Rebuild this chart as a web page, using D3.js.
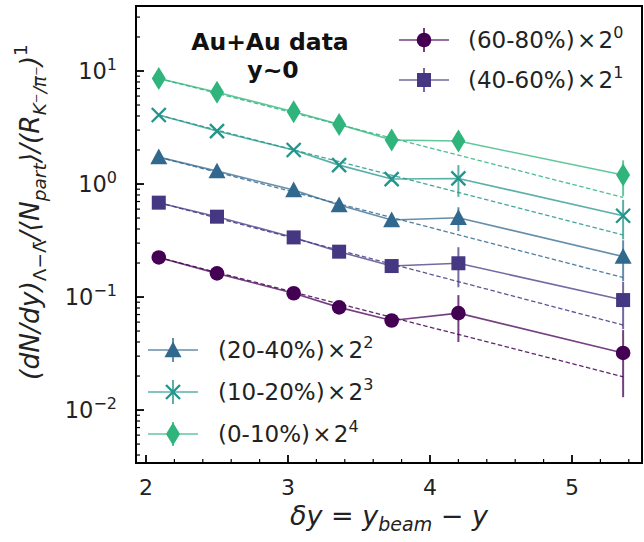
<!DOCTYPE html>
<html>
<head>
<meta charset="utf-8">
<script src="https://cdn.jsdelivr.net/npm/d3@7"></script>
<style>
  html, body { margin: 0; padding: 0; background: #fff; }
  svg { display: block; font-family: "DejaVu Sans", sans-serif; }
</style>
</head>
<body>
<svg id="chart" width="644" height="542"></svg>
<script>
// ---------------- data ----------------
const deltaY = [2.09, 2.50, 3.04, 3.36, 3.73, 4.20, 5.36];

const centralities = ["60-80%", "40-60%", "20-40%", "10-20%", "0-10%"];
const scalePowers  = [0, 1, 2, 3, 4];

const vals_60_80 = [0.224, 0.162, 0.108, 0.081, 0.062, 0.072, 0.032];
const errs_60_80 = [0.008, 0.006, 0.004, 0.003, 0.004, 0.032, 0.019];

const vals_40_60 = [0.684, 0.514, 0.337, 0.252, 0.188, 0.199, 0.094];
const errs_40_60 = [0.02, 0.015, 0.010, 0.008, 0.010, 0.077, 0.042];

const vals_20_40 = [1.73, 1.30, 0.885, 0.652, 0.480, 0.503, 0.228];
const errs_20_40 = [0.04, 0.03, 0.02, 0.02, 0.03, 0.12, 0.09];

const vals_10_20 = [4.08, 2.94, 2.00, 1.47, 1.107, 1.12, 0.524];
const errs_10_20 = [0.10, 0.07, 0.05, 0.04, 0.06, 0.35, 0.20];

const vals_0_10 = [8.6, 6.48, 4.36, 3.37, 2.45, 2.40, 1.20];
const errs_0_10 = [0.20, 0.15, 0.10, 0.08, 0.12, 0.30, 0.42];

// exponential fit (dashed) end-point values at first and last deltaY
const fitStart = [0.224, 0.684, 1.73, 4.08, 8.6];
const fitEnd   = [0.0197, 0.0565, 0.149, 0.354, 0.762];

const xTickValues = [2, 3, 4, 5];
const yTickExponents = [-2, -1, 0, 1];

const colors  = ["#440154", "#453781", "#31688e", "#23968b", "#2fb47c"];
const markers = ["circle", "square", "triangle", "x", "diamond"];

// ---------------- build ----------------
const allVals = [vals_60_80, vals_40_60, vals_20_40, vals_10_20, vals_0_10];
const allErrs = [errs_60_80, errs_40_60, errs_20_40, errs_10_20, errs_0_10];
const series = centralities.map((c, i) => ({
  name: c, power: scalePowers[i], color: colors[i], marker: markers[i],
  points: deltaY.map((x, j) => ({x, y: allVals[i][j], e: allErrs[i][j]})),
  fit: [{x: deltaY[0], y: fitStart[i]}, {x: deltaY[deltaY.length - 1], y: fitEnd[i]}]
}));

const svg = d3.select("#chart");
const L = 136, R = 642, T = 6, B = 463;

const x = d3.scaleLinear().domain([1.9296, 5.493]).range([L, R]);
const y = d3.scaleLog().domain([0.0034, 37.6]).range([B, T]);

const line = d3.line().x(d => x(d.x)).y(d => y(d.y));

function drawMarker(g, type, cx, cy, color) {
  if (type === "circle") {
    g.append("circle").attr("cx", cx).attr("cy", cy).attr("r", 7.3).attr("fill", color);
  } else if (type === "square") {
    g.append("rect").attr("x", cx - 7).attr("y", cy - 7).attr("width", 14).attr("height", 14).attr("fill", color);
  } else if (type === "triangle") {
    const s = 8.5;
    g.append("path").attr("d", `M${cx},${cy - s} L${cx - s},${cy + s * 0.85} L${cx + s},${cy + s * 0.85} Z`).attr("fill", color);
  } else if (type === "x") {
    const s = 7;
    g.append("path").attr("d", `M${cx - s},${cy - s} L${cx + s},${cy + s} M${cx - s},${cy + s} L${cx + s},${cy - s}`)
      .attr("stroke", color).attr("stroke-width", 2.4).attr("fill", "none");
  } else if (type === "diamond") {
    g.append("path").attr("d", `M${cx},${cy - 11.5} L${cx + 7},${cy} L${cx},${cy + 11.5} L${cx - 7},${cy} Z`).attr("fill", color);
  }
}

// clip for plot area
svg.append("defs").append("clipPath").attr("id", "clip")
  .append("rect").attr("x", L).attr("y", T).attr("width", R - L).attr("height", B - T);

const plot = svg.append("g").attr("clip-path", "url(#clip)");

// dashed fits
series.forEach(s => {
  plot.append("path").datum(s.fit).attr("d", line)
    .attr("fill", "none").attr("stroke", s.color).attr("stroke-width", 1.3)
    .attr("stroke-opacity", 0.85).attr("stroke-dasharray", "4.5,2.5");
});

// lines + error bars + markers
series.forEach(s => {
  plot.append("path").datum(s.points).attr("d", line)
    .attr("fill", "none").attr("stroke", s.color).attr("stroke-width", 1.6).attr("stroke-opacity", 0.75);
  s.points.forEach(p => {
    plot.append("line").attr("x1", x(p.x)).attr("x2", x(p.x))
      .attr("y1", y(p.y + p.e)).attr("y2", y(Math.max(p.y - p.e, 1e-4)))
      .attr("stroke", s.color).attr("stroke-width", 2).attr("stroke-opacity", 0.75);
  });
  const mg = plot.append("g");
  s.points.forEach(p => drawMarker(mg, s.marker, x(p.x), y(p.y), s.color));
});

// ---------------- axes ----------------
const ax = svg.append("g");
const xMinor = d3.range(2.0, 5.5, 0.2).filter(v => Math.abs(v - Math.round(v)) > 1e-6 && x(v) < R);
xMinor.forEach(v => ax.append("line").attr("x1", x(v)).attr("x2", x(v)).attr("y1", B).attr("y2", B - 4)
  .attr("stroke", "#000").attr("stroke-width", 1.2));
xTickValues.forEach(v => {
  ax.append("line").attr("x1", x(v)).attr("x2", x(v)).attr("y1", B).attr("y2", B - 8)
    .attr("stroke", "#000").attr("stroke-width", 1.8);
  ax.append("text").attr("x", x(v)).attr("y", 495).attr("text-anchor", "middle")
    .attr("font-size", 22).attr("fill", "#222").text(v);
});
const yMinor = [];
for (let k = -3; k <= 1; k++) for (let m = 2; m <= 9; m++) {
  const v = m * Math.pow(10, k);
  if (v > y.domain()[0] && v < y.domain()[1]) yMinor.push(v);
}
yMinor.forEach(v => ax.append("line").attr("x1", L).attr("x2", L + 4).attr("y1", y(v)).attr("y2", y(v))
  .attr("stroke", "#000").attr("stroke-width", 1.2));
yTickExponents.forEach(k => {
  const v = Math.pow(10, k);
  ax.append("line").attr("x1", L).attr("x2", L + 8).attr("y1", y(v)).attr("y2", y(v))
    .attr("stroke", "#000").attr("stroke-width", 1.8);
  const t = ax.append("text").attr("x", 117).attr("y", y(v) + 8).attr("text-anchor", "end")
    .attr("font-size", 22.5).attr("fill", "#222");
  t.append("tspan").text("10");
  t.append("tspan").attr("dy", -9).attr("font-size", 16).text(k < 0 ? "\u2212" + Math.abs(k) : String(k));
});
ax.append("rect").attr("x", L).attr("y", T).attr("width", R - L).attr("height", B - T)
  .attr("fill", "none").attr("stroke", "#000").attr("stroke-width", 2);

// x label
const xl = svg.append("text").attr("x", 389).attr("y", 525).attr("text-anchor", "middle")
  .attr("font-size", 27).attr("font-style", "italic").attr("fill", "#222");
xl.append("tspan").text("\u03B4y = y");
xl.append("tspan").attr("dy", 6).attr("font-size", 19).text("beam");
xl.append("tspan").attr("dy", -6).text(" \u2212 y");

// y label
const yl = svg.append("text").attr("transform", "translate(39,212) rotate(-90)")
  .attr("text-anchor", "middle").attr("font-size", 26.5).attr("font-style", "italic").attr("fill", "#222");
yl.append("tspan").text("(dN/dy)");
yl.append("tspan").attr("dy", 7).attr("font-size", 18.5).attr("font-style", "normal").text("\u039B\u2212\u039B\u0304");
yl.append("tspan").attr("dy", -7).text("/\u27E8N");
yl.append("tspan").attr("dy", 7).attr("font-size", 18.5).text("part");
yl.append("tspan").attr("dy", -7).text("\u27E9/(R");
yl.append("tspan").attr("dy", 7).attr("font-size", 18.5).text("K\u207B/\u03C0\u207B");
yl.append("tspan").attr("dy", -7).text(")");
yl.append("tspan").attr("dy", -12).attr("font-size", 18.5).attr("font-style", "normal").text("1");

// annotation
svg.append("text").attr("x", 270).attr("y", 50).attr("text-anchor", "middle")
  .attr("font-size", 23.5).attr("font-weight", "bold").attr("fill", "#111").text("Au+Au data");
svg.append("text").attr("x", 273).attr("y", 78).attr("text-anchor", "middle")
  .attr("font-size", 23.5).attr("font-weight", "bold").attr("fill", "#111").text("y~0");

// legends
function legendEntry(s, lx, ly, tx) {
  const g = svg.append("g");
  g.append("line").attr("x1", lx - 25).attr("x2", lx + 25).attr("y1", ly).attr("y2", ly)
    .attr("stroke", s.color).attr("stroke-width", 1.6).attr("stroke-opacity", 0.75);
  g.append("line").attr("x1", lx).attr("x2", lx).attr("y1", ly - 12).attr("y2", ly + 12)
    .attr("stroke", s.color).attr("stroke-width", 2).attr("stroke-opacity", 0.75);
  drawMarker(g, s.marker, lx, ly, s.color);
  const t = g.append("text").attr("x", tx).attr("y", ly + 8).attr("font-size", 23).attr("fill", "#222");
  t.append("tspan").text("(" + s.name + ")\u200A\u00D7\u200A2");
  t.append("tspan").attr("dy", -10).attr("font-size", 16).text(s.power);
}
legendEntry(series[0], 424, 40, 468);
legendEntry(series[1], 424, 80, 468);
legendEntry(series[2], 173, 350, 218);
legendEntry(series[3], 173, 392, 218);
legendEntry(series[4], 173, 434, 218);
</script>
</body>
</html>
